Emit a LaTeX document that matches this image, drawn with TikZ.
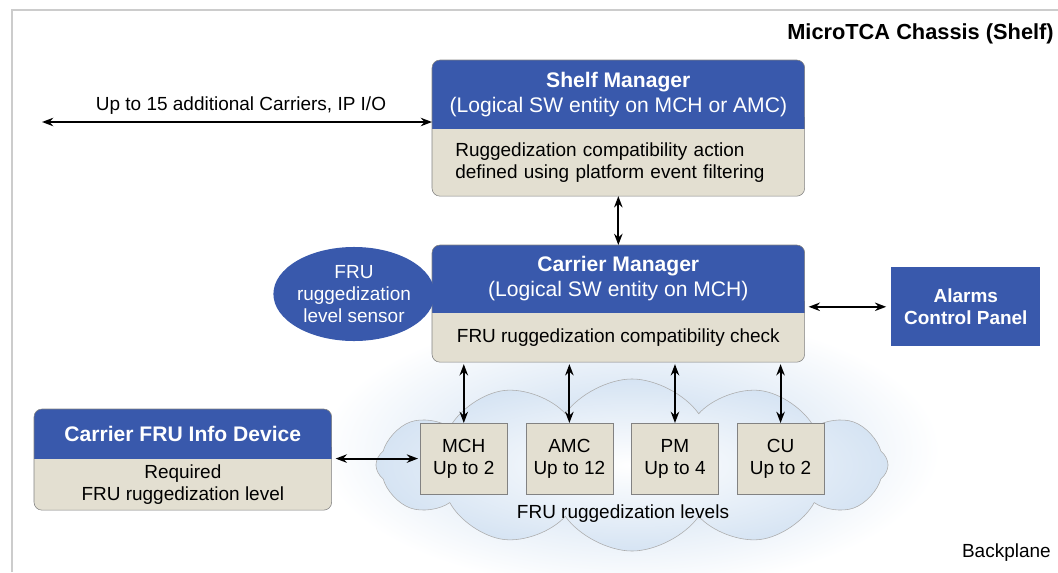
\documentclass[tikz,border=0pt]{standalone}
\usepackage{fontspec}
\setmainfont{Liberation Sans}
\usetikzlibrary{positioning, arrows.meta, shapes.geometric, shapes.symbols, backgrounds}

\definecolor{hdrblue}{RGB}{57,89,172}
\definecolor{bodytan}{RGB}{227,223,209}
\definecolor{edgegray}{RGB}{130,130,130}
\definecolor{glowblue}{RGB}{196,216,238}
\newcommand\hdrfont{\fontsize{15}{18}\selectfont}
\newcommand\txtfont{\fontsize{13.5}{15.6}\selectfont}

\begin{document}
\begin{tikzpicture}[x=0.025cm, y=-0.025cm,
    hdr/.style={text=white, inner sep=0pt, align=center, font=\hdrfont},
    txt/.style={inner sep=0pt, font=\txtfont},
    fru/.style={draw=edgegray, fill=bodytan, inner sep=0pt, align=center, font=\txtfont,
        minimum width=2.175cm, minimum height=1.775cm},
    ar/.style={line width=1.4pt, {Stealth[length=8pt,width=6pt]}-{Stealth[length=8pt,width=6pt]}}]
    \useasboundingbox (0,0) rectangle (1058,572);

    % managers
    \node[hdr, minimum width=9.3cm, minimum height=1.7cm, anchor=north west] (shelf-hdr) at (432,60) {\textbf{Shelf Manager}\\(Logical SW entity on MCH or AMC)};
    \node[txt, minimum width=9.3cm, minimum height=1.675cm, text width=8.15cm, align=left, below=0pt of shelf-hdr] (shelf-body) {Ruggedization compatibility action\\defined using platform event filtering};

    \node[hdr, minimum width=9.3cm, minimum height=1.675cm, anchor=north west] (car-hdr) at (432,245) {\textbf{Carrier Manager}\\(Logical SW entity on MCH)};
    \node[txt, minimum width=9.3cm, minimum height=1.225cm, below=0pt of car-hdr] (car-body) {FRU ruggedization compatibility check};

    \node[hdr, minimum width=7.425cm, minimum height=1.225cm, anchor=north west] (info-hdr) at (34,409) {\textbf{Carrier FRU Info Device}};
    \node[txt, minimum width=7.425cm, minimum height=1.275cm, align=center, below=0pt of info-hdr] (info-body) {Required\\FRU ruggedization level};

    \node[ellipse, fill=hdrblue, text=white, inner sep=0pt, minimum width=3.925cm, minimum height=2.35cm, align=center, font=\txtfont] (sensor) at (354,294) {FRU\\ruggedization\\level sensor};
    \node[fill=hdrblue, text=white, inner sep=0pt, minimum width=3.725cm, minimum height=1.975cm, align=center, font=\bfseries\txtfont, anchor=north west] (alarm) at (891,267) {Alarms\\Control Panel};

    % FRU types
    \node[fru, anchor=north west] (mch) at (420,423) {MCH\\Up to 2};
    \node[fru, right=0.45cm of mch] (amc) {AMC\\Up to 12};
    \node[fru, right=0.45cm of amc] (pm) {PM\\Up to 4};
    \node[fru, right=0.45cm of pm] (cu) {CU\\Up to 2};

    % labels
    \node[inner sep=0pt, font=\bfseries\fontsize{15.5}{18}\selectfont, anchor=east] (chassis) at (1054,34) {MicroTCA Chassis (Shelf)};
    \node[txt, anchor=east] (backplane) at (1051,553) {Backplane};
    \node[txt] (levels-lbl) at (623,514) {FRU ruggedization levels};
    \node[txt] (carriers-lbl) at (241,106) {Up to 15 additional Carriers, IP I/O};
    \coordinate (carriers) at (42,122);

    \draw[ar] (carriers) -- (carriers -| shelf-hdr.west);
    \draw[ar] (shelf-body.south) -- (car-hdr.north);
    \draw[ar, shorten <=0.12cm, shorten >=0.1cm] (alarm.west) -- (alarm.west -| car-hdr.east);
    \draw[ar, shorten <=0.1cm, shorten >=0.05cm] (info-hdr.south east) -- (info-hdr.south east -| mch.west);
    \foreach \f in {mch, amc, pm, cu}
        \draw[ar, shorten >=0.05cm] (\f.north) -- (\f.north |- car-body.south);

    \begin{scope}[on background layer]
        \draw[gray!40, line width=1.5pt] (12,572) |- (1058,10);
        \shade[inner color=glowblue, outer color=white] (630,450) ellipse [x radius=310, y radius=140];
        \node[cloud, cloud puffs=12, cloud puff arc=110, cloud ignores aspect, draw=gray!65, inner color=white, outer color=glowblue!70, minimum width=12.8cm, minimum height=4.3cm] (levels) at (632,465) {};
        \foreach \b in {shelf, car, info} {
            \fill[bodytan, rounded corners=0.2cm] (\b-hdr.north west) rectangle (\b-body.south east);
            \fill[hdrblue, rounded corners=0.2cm] (\b-hdr.north west) rectangle (\b-hdr.south east);
            \fill[hdrblue] ([yshift=0.3cm]\b-hdr.south west) rectangle (\b-hdr.south east);
            \draw[edgegray, rounded corners=0.2cm] (\b-hdr.north west) rectangle (\b-body.south east);
        }
    \end{scope}
\end{tikzpicture}
\end{document}
